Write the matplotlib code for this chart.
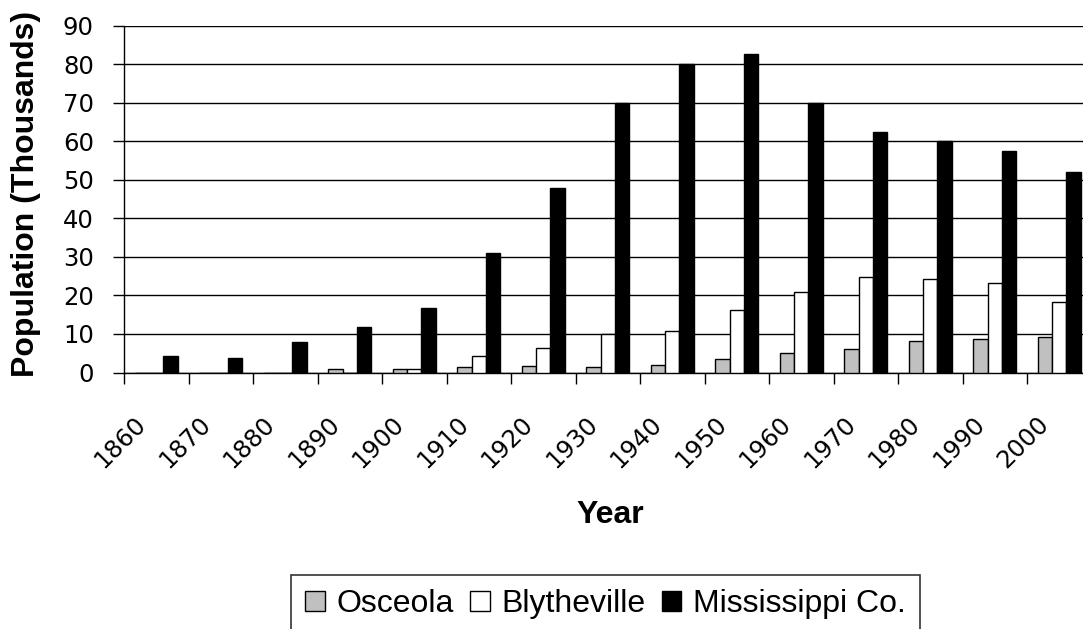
import matplotlib
matplotlib.use("Agg")
import matplotlib.pyplot as plt
from matplotlib.transforms import ScaledTranslation, blended_transform_factory
import numpy as np

years = ["1860", "1870", "1880", "1890", "1900", "1910", "1920", "1930",
         "1940", "1950", "1960", "1970", "1980", "1990", "2000"]
osceola = [0, 0, 0, 0.8, 0.9, 1.4, 1.8, 1.5, 1.9, 3.5, 5.0, 6.2, 8.1, 8.6, 9.2]
blytheville = [0, 0, 0, 0, 0.9, 4.2, 6.3, 10.1, 10.7, 16.2, 20.8, 24.7, 24.3, 23.3, 18.3]
mississippi = [4.3, 3.8, 7.9, 11.8, 16.8, 31.0, 47.8, 70.0, 80.0, 82.7, 70.0, 62.3, 60.0, 57.5, 52.1]
series_names = ["Osceola", "Blytheville", "Mississippi Co."]
y_ticks = [0, 10, 20, 30, 40, 50, 60, 70, 80, 90]

plt.rcParams['font.family'] = ['Liberation Sans', 'DejaVu Sans']

W, H = 1083, 629
fig = plt.figure(figsize=(W / 100, H / 100), dpi=100)
fig.patch.set_facecolor("white")

left_px, right_px = 124, 124 + 15 * 64.5
top_px, bot_px = 25.5, 372.5
ax = fig.add_axes([left_px / W, 1 - bot_px / H, (right_px - left_px) / W, (bot_px - top_px) / H])

n = len(years)
x = np.arange(n)
w = 1 / 4.5
off = 0.75 * w
colors = ["#C0C0C0", "white", "black"]
data = [osceola, blytheville, mississippi]
for j, (vals, c, name) in enumerate(zip(data, colors, series_names)):
    ax.bar(x + off + j * w, vals, width=w, align="edge", color=c,
           edgecolor="black", linewidth=1.0, label=name, zorder=3)

tick_fs = 17.5
ax.set_xlim(0, n)
ax.set_ylim(0, 90)
ax.set_yticks(y_ticks)
ax.set_yticklabels([str(v) for v in y_ticks], fontsize=tick_fs, family="DejaVu Sans")
ax.yaxis.grid(True, color="black", linewidth=1.0, zorder=0)
ax.set_axisbelow(True)
ax.tick_params(axis="y", direction="out", length=7.7, width=1.0, pad=14.0, color="black")
ax.set_xticks(np.arange(n + 1))
ax.set_xticklabels([])
ax.tick_params(axis="x", direction="out", length=7.9, width=1.0, color="black")
for s in ["top", "right"]:
    ax.spines[s].set_visible(False)
for s in ["left", "bottom"]:
    ax.spines[s].set_linewidth(1.0)
    ax.spines[s].set_color("black")

trans = blended_transform_factory(ax.transData, ax.transAxes) + ScaledTranslation(-10.0 / 72, -34.6 / 72, fig.dpi_scale_trans)
for i, lab in enumerate(years):
    ax.text(i + 0.5, 0, lab, transform=trans, rotation=45, rotation_mode="anchor",
            ha="right", va="center", fontsize=tick_fs, family="DejaVu Sans", clip_on=False)

fig.text(26 / W, 1 - 193.5 / H, "Population (Thousands)", rotation=90, ha="center",
         va="center", fontsize=23, fontweight="bold")
fig.text(610 / W, 1 - 515 / H, "Year", ha="center", va="center", fontsize=23, fontweight="bold")

leg = fig.legend(loc="upper center", bbox_to_anchor=(605.5 / W, 1 - 575 / H), ncol=3,
                 fontsize=23, frameon=True, fancybox=False, shadow=False,
                 handlelength=0.62, handleheight=0.62, handletextpad=0.37,
                 columnspacing=0.5, borderpad=0.45, borderaxespad=0)
leg.get_frame().set_edgecolor("black")
leg.get_frame().set_linewidth(1.2)

fig.savefig("out.png", dpi=100)
